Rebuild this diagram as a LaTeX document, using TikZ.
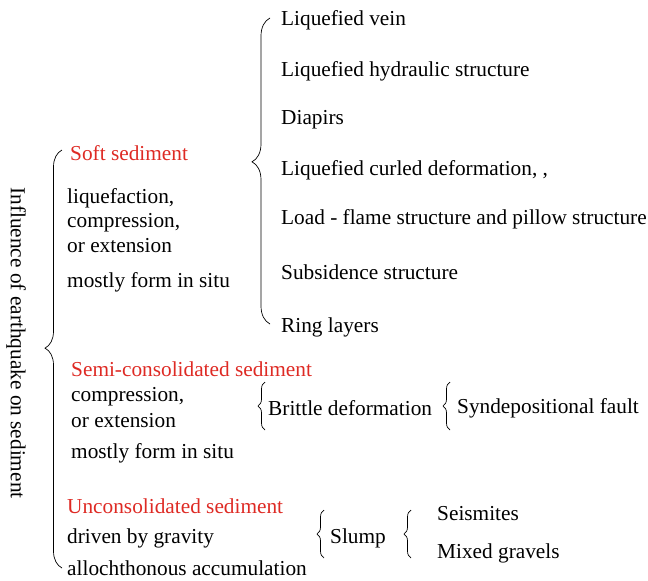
\documentclass[tikz,border=0pt]{standalone}
\usepackage{fontspec}
\setmainfont{Liberation Serif}
\usetikzlibrary{decorations.pathreplacing}
\definecolor{sedred}{RGB}{222,42,36}
\begin{document}
\begin{tikzpicture}[x=1pt,y=-1pt,
  every node/.style={font=\fontsize{21.3}{25}\selectfont, inner sep=0pt, anchor=base west},
  kind/.style={text=sedred},
  curly/.style={decorate, decoration={brace, amplitude=#1, aspect=0.5}, line width=0.7pt},
  curly/.default=7pt]
\useasboundingbox (0,0) rectangle (648,581);

\node[rotate=-90, anchor=center] (title) at (16,343) {Influence of earthquake on sediment};

% soft sediment
\node[kind] (soft) at (70,160) {Soft sediment};
\node (soft1) at (67,203) {liquefaction,};
\node (soft2) at (67,227) {compression,};
\node (soft3) at (67,252) {or extension};
\node (soft4) at (67,287) {mostly form in situ};

\node (vein) at (281,25) {Liquefied vein};
\node (hydr) at (281,76) {Liquefied hydraulic structure};
\node (diap) at (281,124) {Diapirs};
\node (curl) at (281,175) {Liquefied curled deformation, ,};
\node (load) at (281,224) {Load - flame structure and pillow structure};
\node (subs) at (281,279) {Subsidence structure};
\node (ring) at (281,332) {Ring layers};

% semi-consolidated
\node[kind] (semi) at (71,376) {Semi-consolidated sediment};
\node (semi1) at (71,401) {compression,};
\node (semi2) at (71,427) {or extension};
\node (semi3) at (71,458) {mostly form in situ};
\node (brit) at (268,415) {Brittle deformation};
\node (synd) at (457,413) {Syndepositional fault};

% unconsolidated
\node[kind] (uncon) at (67,513) {Unconsolidated sediment};
\node (uncon1) at (67,543) {driven by gravity};
\node (uncon2) at (67,575) {allochthonous accumulation};
\node (slump) at (330,543) {Slump};
\node (seis) at (437,520) {Seismites};
\node (mixd) at (437,558) {Mixed gravels};

% braces
\coordinate (bigtop) at (62,150);
\coordinate (bigbot) at (62,568);
\draw[curly=17pt, decoration={aspect=0.526}] (bigbot) -- (bigtop);
\coordinate (softtop) at (270,18);
\coordinate (softbot) at (270,324);
\draw[curly=18pt, decoration={aspect=0.53}] (softbot) -- (softtop);
\coordinate (brtop) at (265,382);
\coordinate (brbot) at (265,430);
\draw[curly] (brbot) -- (brtop);
\coordinate (sytop) at (450,382);
\coordinate (sybot) at (450,430);
\draw[curly] (sybot) -- (sytop);
\coordinate (sltop) at (324,510);
\coordinate (slbot) at (324,558);
\draw[curly] (slbot) -- (sltop);
\coordinate (setop) at (411,510);
\coordinate (sebot) at (411,558);
\draw[curly] (sebot) -- (setop);
\end{tikzpicture}
\end{document}
